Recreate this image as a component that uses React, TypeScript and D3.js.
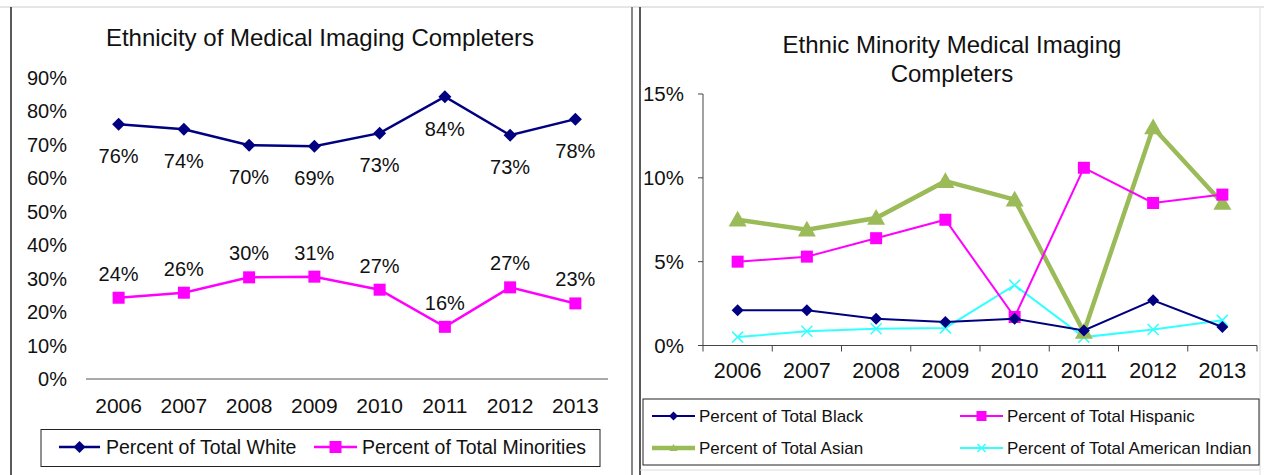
import React from "react";
import * as d3 from "d3";

const years = ["2006", "2007", "2008", "2009", "2010", "2011", "2012", "2013"];
const whiteVals = [76.2, 74.7, 69.9, 69.6, 73.5, 84.4, 72.9, 77.7];
const minorityVals = [24.3, 25.8, 30.4, 30.6, 26.7, 15.6, 27.4, 22.6];
const whiteLabels = ["76%", "74%", "70%", "69%", "73%", "84%", "73%", "78%"];
const minorityLabels = ["24%", "26%", "30%", "31%", "27%", "16%", "27%", "23%"];
const leftTicks = [0, 10, 20, 30, 40, 50, 60, 70, 80, 90];

const blackVals = [2.1, 2.1, 1.6, 1.4, 1.6, 0.9, 2.7, 1.1];
const hispanicVals = [5.0, 5.3, 6.4, 7.5, 1.7, 10.6, 8.5, 9.0];
const asianVals = [7.5, 6.9, 7.6, 9.8, 8.7, 0.8, 13.0, 8.5];
const indianVals = [0.5, 0.85, 1.0, 1.05, 3.6, 0.5, 0.95, 1.5];
const rightTicks = [0, 5, 10, 15];

const FONT = "'Liberation Sans', Arial, sans-serif";
const NAVY = "#000080";
const MAGENTA = "#FF00FF";
const GREEN = "#9BBB59";
const CYAN = "#33FFFF";

function Marker({ type, x, y, color, s }: { type: string; x: number; y: number; color: string; s: number }) {
  if (type === "diamond") {
    return <path d={`M${x},${y - s}L${x + s},${y}L${x},${y + s}L${x - s},${y}Z`} fill={color} />;
  }
  if (type === "square") {
    return <rect x={x - s} y={y - s} width={2 * s} height={2 * s} fill={color} />;
  }
  if (type === "triangle") {
    return <path d={`M${x},${y - s}L${x + s},${y + s * 0.75}L${x - s},${y + s * 0.75}Z`} fill={color} />;
  }
  if (type === "x") {
    return (
      <path
        d={`M${x - s},${y - s}L${x + s},${y + s}M${x - s},${y + s}L${x + s},${y - s}`}
        stroke={color}
        strokeWidth={1.5}
      />
    );
  }
  return null;
}

function LeftChart() {
  const x = d3.scaleBand().domain(years).range([86, 608]);
  const y = d3.scaleLinear().domain([0, 90]).range([379, 78]);
  const cx = (d: string) => (x(d) as number) + x.bandwidth() / 2;
  const line = d3
    .line<number>()
    .x((_, i) => cx(years[i]))
    .y((d) => y(d));
  return (
    <g fontFamily={FONT}>
      <text x={320} y={46} textAnchor="middle" fontSize={24} fill="#111">
        Ethnicity of Medical Imaging Completers
      </text>
      {leftTicks.map((t) => (
        <text key={t} x={67} y={y(t) + 7} textAnchor="end" fontSize={20} fill="#111">
          {t}%
        </text>
      ))}
      <line x1={86} x2={608} y1={y(0)} y2={y(0)} stroke="#555" strokeWidth={1} />
      {years.map((yr) => (
        <text key={yr} x={cx(yr)} y={413} textAnchor="middle" fontSize={21} fill="#111">
          {yr}
        </text>
      ))}
      <path d={line(whiteVals) || ""} fill="none" stroke={NAVY} strokeWidth={2.5} />
      <path d={line(minorityVals) || ""} fill="none" stroke={MAGENTA} strokeWidth={2.5} />
      {whiteVals.map((v, i) => (
        <Marker key={"w" + i} type="diamond" x={cx(years[i])} y={y(v)} color={NAVY} s={6.5} />
      ))}
      {minorityVals.map((v, i) => (
        <Marker key={"m" + i} type="square" x={cx(years[i])} y={y(v)} color={MAGENTA} s={6} />
      ))}
      {whiteVals.map((v, i) => (
        <text key={"wl" + i} x={cx(years[i])} y={y(v) + 39} textAnchor="middle" fontSize={20} fill="#111">
          {whiteLabels[i]}
        </text>
      ))}
      {minorityVals.map((v, i) => (
        <text key={"ml" + i} x={cx(years[i])} y={y(v) - 17} textAnchor="middle" fontSize={20} fill="#111">
          {minorityLabels[i]}
        </text>
      ))}
      <rect x={41} y={429.5} width={559} height={37} fill="none" stroke="#222" strokeWidth={1} />
      <line x1={59} x2={100} y1={447} y2={447} stroke={NAVY} strokeWidth={2.5} />
      <Marker type="diamond" x={79.5} y={447} color={NAVY} s={6} />
      <text x={106} y={454} fontSize={19.5} fill="#111">Percent of Total White</text>
      <line x1={314} x2={357} y1={447} y2={447} stroke={MAGENTA} strokeWidth={2.5} />
      <Marker type="square" x={335.5} y={447} color={MAGENTA} s={6} />
      <text x={362} y={454} fontSize={19.5} fill="#111">Percent of Total Minorities</text>
    </g>
  );
}

function RightChart() {
  const x = d3.scaleBand().domain(years).range([703, 1257]);
  const y = d3.scaleLinear().domain([0, 15]).range([345.5, 94]);
  const cx = (d: string) => (x(d) as number) + x.bandwidth() / 2;
  const line = d3
    .line<number>()
    .x((_, i) => cx(years[i]))
    .y((d) => y(d));
  const series = [
    { vals: blackVals, color: NAVY, marker: "diamond", w: 2, s: 6, ls: 4.5 },
    { vals: hispanicVals, color: MAGENTA, marker: "square", w: 2, s: 6, ls: 5 },
    { vals: asianVals, color: GREEN, marker: "triangle", w: 4.5, s: 9, ls: 4 },
    { vals: indianVals, color: CYAN, marker: "x", w: 2, s: 5.5, ls: 4 },
  ];
  const drawOrder = [3, 2, 1, 0];
  const edges = x.domain().map((d) => x(d) as number).concat([1257]);
  return (
    <g fontFamily={FONT}>
      <text x={952} y={53} textAnchor="middle" fontSize={24} fill="#111">
        Ethnic Minority Medical Imaging
      </text>
      <text x={952} y={82} textAnchor="middle" fontSize={24} fill="#111">
        Completers
      </text>
      <line x1={703} x2={703} y1={y(15)} y2={y(0)} stroke="#444" />
      {rightTicks.map((t) => (
        <g key={t}>
          <line x1={698} x2={703} y1={y(t)} y2={y(t)} stroke="#444" />
          <text x={684} y={y(t) + 7} textAnchor="end" fontSize={20.5} fill="#111">
            {t}%
          </text>
        </g>
      ))}
      <line x1={703} x2={1257} y1={y(0)} y2={y(0)} stroke="#444" />
      {edges.map((e, i) => (
        <line key={i} x1={e} x2={e} y1={y(0)} y2={y(0) + 6} stroke="#444" />
      ))}
      {years.map((yr) => (
        <text key={yr} x={cx(yr)} y={378} textAnchor="middle" fontSize={21.5} fill="#111">
          {yr}
        </text>
      ))}
      {drawOrder.map((si) => {
        const s = series[si];
        return (
          <g key={si}>
            <path d={line(s.vals) || ""} fill="none" stroke={s.color} strokeWidth={s.w} />
            {s.vals.map((v, i) => (
              <Marker key={i} type={s.marker} x={cx(years[i])} y={y(v)} color={s.color} s={s.s} />
            ))}
          </g>
        );
      })}
      <rect x={643} y={399} width={616} height={66} fill="none" stroke="#222" strokeWidth={1} />
      {[
        { si: 0, lx: 652, ly: 416, label: "Percent of Total Black" },
        { si: 1, lx: 960, ly: 416, label: "Percent of Total Hispanic" },
        { si: 2, lx: 652, ly: 448, label: "Percent of Total Asian" },
        { si: 3, lx: 960, ly: 448, label: "Percent of Total American Indian" },
      ].map((l) => {
        const s = series[l.si];
        return (
          <g key={l.si}>
            <line x1={l.lx} x2={l.lx + 43} y1={l.ly} y2={l.ly} stroke={s.color} strokeWidth={s.w} />
            <Marker type={s.marker} x={l.lx + 21.5} y={l.ly} color={s.color} s={s.ls} />
            <text x={l.lx + 47} y={l.ly + 6} fontSize={17} fill="#111">
              {l.label}
            </text>
          </g>
        );
      })}
    </g>
  );
}

export default function App() {
  return (
    <svg
      width={1264}
      height={475}
      style={{ position: "absolute", left: 0, top: 0, background: "#fff" }}
    >
      <rect x={0} y={0} width={1264} height={475} fill="#fff" />
      <line x1={0} x2={1264} y1={7} y2={7} stroke="#ccc" />
      <line x1={11} x2={11} y1={7} y2={475} stroke="#222" strokeWidth={1.5} />
      <line x1={632} x2={632} y1={7} y2={475} stroke="#888" strokeWidth={2} />
      <line x1={640} x2={640} y1={7} y2={475} stroke="#222" strokeWidth={1.5} />
      <line x1={1260} x2={1260} y1={7} y2={475} stroke="#ddd" />
      <line x1={640} x2={1260} y1={470} y2={470} stroke="#ddd" />
      <LeftChart />
      <RightChart />
    </svg>
  );
}
